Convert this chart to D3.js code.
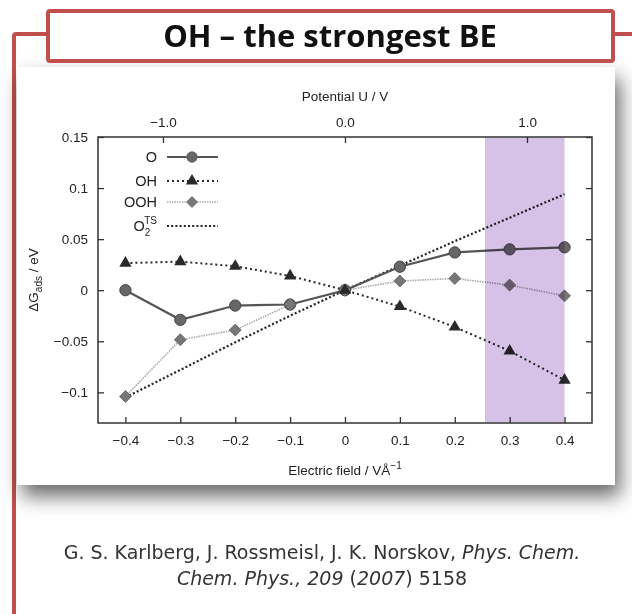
<!DOCTYPE html>
<html><head><meta charset="utf-8">
<script src="https://cdn.jsdelivr.net/npm/d3@7"></script>
<style>
html,body{margin:0;padding:0;background:#fff;}
svg{display:block;}
</style></head>
<body>
<svg id="c" width="632" height="614"></svg>
<script>
// ---- data ----
const fieldValues = [-0.4, -0.3, -0.2, -0.1, 0, 0.1, 0.2, 0.3, 0.4];
const seriesO    = [0.000, -0.029, -0.015, -0.014, 0, 0.023, 0.037, 0.040, 0.042];
const seriesOH   = [0.0265, 0.028, 0.0235, 0.014, 0, -0.016, -0.036, -0.0595, -0.088];
const seriesOOH  = [-0.104, -0.0485, -0.039, -0.014, 0, 0.009, 0.0115, 0.005, -0.0055];
const seriesO2TS = [-0.105, -0.078, -0.051, -0.025, 0, 0.024, 0.048, 0.071, 0.094];
const bottomTicks = [-0.4, -0.3, -0.2, -0.1, 0, 0.1, 0.2, 0.3, 0.4];
const leftTicks = [-0.1, -0.05, 0, 0.05, 0.1, 0.15];
const topTicks = [-1.0, 0.0, 1.0];
const bandRange = [0.255, 0.4];
const titleText = "OH \u2013 the strongest BE";

const svg = d3.select("#c");
const defs = svg.append("defs");
const f = defs.append("filter").attr("id","sh").attr("x","-10%").attr("y","-10%").attr("width","130%").attr("height","140%");
f.append("feDropShadow").attr("dx",5).attr("dy",11).attr("stdDeviation",10).attr("flood-color","#000").attr("flood-opacity",0.6);

const red = "#c0504d";
// frame lines
svg.append("path").attr("d","M14,614 V36 Q14,34 16,34 H48").attr("fill","none").attr("stroke",red).attr("stroke-width",4);
svg.append("path").attr("d","M613,34 H632").attr("fill","none").attr("stroke",red).attr("stroke-width",4);
// panel
svg.append("rect").attr("x",17).attr("y",67).attr("width",598).attr("height",418).attr("fill","#fff").attr("filter","url(#sh)");
// title box
svg.append("rect").attr("x",48).attr("y",11).attr("width",565).attr("height",50).attr("rx",2).attr("fill","#fff").attr("stroke",red).attr("stroke-width",4);
svg.append("text").attr("x",330).attr("y",47).attr("text-anchor","middle")
  .attr("font-family","'Open Sans', sans-serif").attr("font-weight","bold").attr("font-size",31).attr("fill","#111").text(titleText);

// scales
const x = d3.scaleLinear().domain([-0.45,0.45]).range([98,592]);
const y = d3.scaleLinear().domain([-0.13,0.15]).range([423,137]);
const xTop = d3.scaleLinear().domain([-1.357,1.357]).range([98,592]);

const g = svg.append("g");
const font = "'Liberation Sans', Arial, sans-serif";

// axes
const axB = g.append("g").attr("transform",`translate(0,${y.range()[0]})`)
  .call(d3.axisBottom(x).tickValues(bottomTicks).tickSize(-6).tickPadding(12).tickFormat(d=>d===0?"0":d3.format(".1f")(d).replace("-","\u2212")));
const axT = g.append("g").attr("transform",`translate(0,${y.range()[1]})`)
  .call(d3.axisTop(xTop).tickValues(topTicks).tickSize(-6).tickPadding(10).tickFormat(d=>d3.format(".1f")(d).replace("-","\u2212")));
const axL = g.append("g").attr("transform",`translate(${x.range()[0]},0)`)
  .call(d3.axisLeft(y).tickValues(leftTicks).tickSize(-6).tickPadding(10).tickFormat(d=>d===0?"0":String(d).replace("-","\u2212")));
const axR = g.append("g").attr("transform",`translate(${x.range()[1]},0)`)
  .call(d3.axisRight(y).tickValues(leftTicks).tickSize(-6).tickFormat(""));
[axB,axT,axL,axR].forEach(a=>{
  a.select(".domain").remove();
  a.selectAll("line").attr("stroke","#333").attr("stroke-width",1.3);
  a.selectAll("text").attr("font-family",font).attr("font-size",13.5).attr("fill","#222");
});
g.append("rect").attr("x",x.range()[0]).attr("y",y.range()[1]).attr("width",x.range()[1]-x.range()[0]).attr("height",y.range()[0]-y.range()[1])
  .attr("fill","none").attr("stroke","#333").attr("stroke-width",1.5);

// axis titles
g.append("text").attr("x",x(0)).attr("y",101).attr("text-anchor","middle").attr("font-family",font).attr("font-size",13.5).attr("fill","#222").text("Potential U / V");
const xl = g.append("text").attr("x",x(0)).attr("y",475).attr("text-anchor","middle").attr("font-family",font).attr("font-size",13.5).attr("fill","#222");
xl.append("tspan").text("Electric field / V\u00c5");
xl.append("tspan").attr("dy",-6).attr("font-size",10).text("\u22121");
const yl = g.append("text").attr("transform",`translate(38,${(y.range()[0]+y.range()[1])/2}) rotate(-90)`).attr("text-anchor","middle").attr("font-family",font).attr("font-size",13.5).attr("fill","#222");
yl.append("tspan").text("\u0394G");
yl.append("tspan").attr("dy",4).attr("font-size",10).text("ads");
yl.append("tspan").attr("dy",-4).text(" / eV");

// series
const pts = vals => fieldValues.map((fv,i)=>[fv, vals[i]]);
const line = d3.line().x(d=>x(d[0])).y(d=>y(d[1]));
const plot = g.append("g");
plot.append("path").datum(pts(seriesO2TS)).attr("d",line).attr("fill","none").attr("stroke","#222").attr("stroke-width",2.2).attr("stroke-dasharray","2,2.2");
plot.append("path").datum(pts(seriesOOH)).attr("d",line).attr("fill","none").attr("stroke","#aaa").attr("stroke-width",1.6).attr("stroke-dasharray","1.5,1");
plot.append("path").datum(pts(seriesOH)).attr("d",line).attr("fill","none").attr("stroke","#2a2a2a").attr("stroke-width",2).attr("stroke-dasharray","2,3");
plot.append("path").datum(pts(seriesO)).attr("d",line).attr("fill","none").attr("stroke","#555").attr("stroke-width",2.2);

const sym = {
  O: d3.symbol().type(d3.symbolCircle).size(100),
  OH: d3.symbol().type(d3.symbolTriangle).size(65),
  OOH: d3.symbol().type(d3.symbolSquare).size(72)
};
plot.selectAll(".mO").data(pts(seriesO)).join("path").attr("d",sym.O()).attr("transform",d=>`translate(${x(d[0])},${y(d[1])})`).attr("fill","#666").attr("stroke","#444").attr("stroke-width",1);
plot.selectAll(".mOOH").data(pts(seriesOOH)).join("path").attr("d",sym.OOH()).attr("transform",d=>`translate(${x(d[0])},${y(d[1])}) rotate(45)`).attr("fill","#777").attr("stroke","#666").attr("stroke-width",0.8);
plot.selectAll(".mOH").data(pts(seriesOH)).join("path").attr("d",sym.OH()).attr("transform",d=>`translate(${x(d[0])},${y(d[1])})`).attr("fill","#2a2a2a");

// band (multiply on top)
g.append("rect").attr("x",x(bandRange[0])).attr("y",y.range()[1]+0.75).attr("width",x(bandRange[1])-x(bandRange[0])).attr("height",y.range()[0]-y.range()[1]-1.5)
  .attr("fill","#d5c2e6").style("mix-blend-mode","multiply");

// legend
const lg = g.append("g").attr("font-family",font).attr("font-size",14.5).attr("fill","#222");
const rows = [
  {k:"O", y:157, stroke:"#555", w:2.2, dash:null, sym:sym.O, fill:"#666", rot:0},
  {k:"OH", y:181, stroke:"#2a2a2a", w:2, dash:"2,3", sym:sym.OH, fill:"#2a2a2a", rot:0},
  {k:"OOH", y:202, stroke:"#aaa", w:1.6, dash:"1.5,1", sym:sym.OOH, fill:"#777", rot:45},
  {k:"O2TS", y:226, stroke:"#222", w:2.2, dash:"2,2.2", sym:null}
];
rows.forEach(r=>{
  const t = lg.append("text").attr("x",157).attr("y",r.y+5).attr("text-anchor","end");
  if(r.k==="O2TS"){
    t.append("tspan").text("O");
    t.append("tspan").attr("dy",5).attr("font-size",10).text("2");
    t.append("tspan").attr("dx",-6).attr("dy",-12).attr("font-size",10).text("TS");
  } else t.text(r.k);
  lg.append("line").attr("x1",167).attr("x2",218).attr("y1",r.y).attr("y2",r.y).attr("stroke",r.stroke).attr("stroke-width",r.w).attr("stroke-dasharray",r.dash);
  if(r.sym) lg.append("path").attr("d",r.sym()).attr("transform",`translate(192,${r.y}) rotate(${r.rot})`).attr("fill",r.fill);
});

// citation
const cit = svg.append("g").attr("font-family","'DejaVu Sans', Verdana, sans-serif").attr("font-size",19).attr("fill","#333").attr("text-anchor","middle");
const c1 = cit.append("text").attr("x",322).attr("y",559);
c1.append("tspan").text("G. S. Karlberg, J. Rossmeisl, J. K. Norskov, ");
c1.append("tspan").attr("font-style","italic").text("Phys. Chem.");
const c2 = cit.append("text").attr("x",322).attr("y",585);
c2.append("tspan").attr("font-style","italic").text("Chem. Phys., 209");
c2.append("tspan").text(" (");
c2.append("tspan").attr("font-style","italic").text("2007");
c2.append("tspan").text(") 5158");
</script>
</body></html>
